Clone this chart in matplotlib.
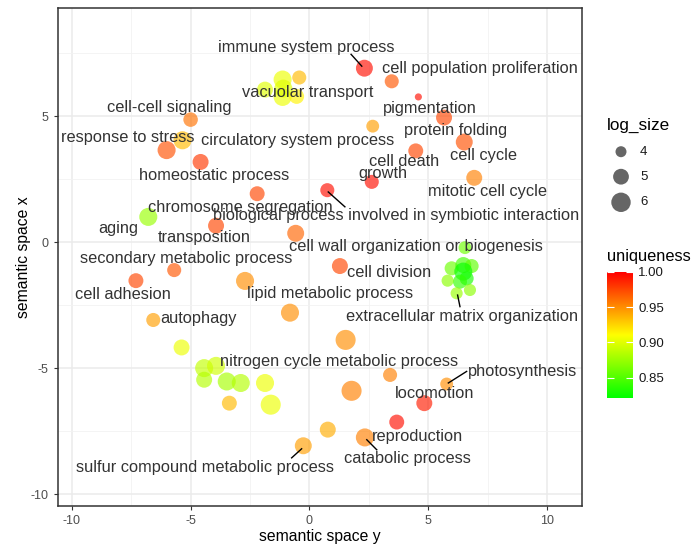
import numpy as np
import matplotlib.pyplot as plt
from matplotlib.colors import LinearSegmentedColormap, Normalize

plt.rcParams['font.family'] = ['Liberation Sans', 'DejaVu Sans']
plt.rcParams['axes.unicode_minus'] = False

# GO terms: semantic coordinates, log_size, uniqueness
plot_y = [2.31, 3.46, -1.13, -0.43, -1.87, -1.13, -0.54, -1.10, 4.58, 2.66,
          2.62, 0.75, -2.20, -0.58, 5.66, 6.51, 4.47, 6.93, -5.00, -5.34,
          -6.01, -4.58, -6.78, -3.93, -5.69, -7.30, -6.57, -5.38, -4.43, -3.93,
          -4.43, -3.48, -2.89, -1.87, -1.63, -3.37, -2.71, 1.28, -0.82, 1.52,
          3.39, 1.77, 0.77, -0.26, 2.33, 3.67, 5.77, 4.83,
          6.54, 5.98, 6.47, 6.82, 6.47, 6.61, 6.33, 5.81, 6.75, 6.19]
plot_x = [6.91, 6.39, 6.46, 6.54, 6.06, 5.77, 5.79, 6.10, 5.77, 4.61,
          2.40, 2.07, 1.93, 0.36, 4.95, 3.98, 3.63, 2.56, 4.87, 4.05,
          3.66, 3.19, 1.01, 0.66, -1.10, -1.52, -3.08, -4.17, -4.99, -4.90,
          -5.45, -5.52, -5.58, -5.58, -6.44, -6.38, -1.53, -0.94, -2.79, -3.87,
          -5.26, -5.89, -7.43, -8.07, -7.74, -7.13, -5.62, -6.38,
          -0.21, -1.03, -0.90, -0.94, -1.16, -1.43, -1.56, -1.52, -1.89, -2.02]
log_size = [5.3, 4.6, 5.6, 4.6, 5.05, 5.6, 4.8, 5.6, 3.45, 4.35,
            4.6, 4.6, 4.8, 5.3, 5.05, 5.3, 4.8, 5.05, 4.7, 5.6,
            5.6, 5.05, 5.6, 5.05, 4.6, 4.8, 4.6, 5.05, 5.6, 5.6,
            5.05, 5.6, 5.6, 5.6, 6.2, 4.8, 5.6, 5.05, 5.6, 6.2,
            4.6, 6.2, 5.05, 5.3, 5.6, 4.8, 4.35, 5.05,
            4.35, 4.6, 5.05, 4.6, 5.6, 4.6, 4.6, 4.2, 4.2, 4.2]
uniqueness = [0.995, 0.97, 0.905, 0.935, 0.90, 0.905, 0.915, 0.90, 0.995, 0.945,
              0.995, 0.995, 0.975, 0.965, 0.975, 0.972, 0.975, 0.955, 0.96, 0.935,
              0.972, 0.98, 0.875, 0.975, 0.97, 0.975, 0.945, 0.905, 0.89, 0.895,
              0.885, 0.88, 0.885, 0.905, 0.905, 0.935, 0.95, 0.975, 0.95, 0.95,
              0.955, 0.955, 0.94, 0.945, 0.955, 0.995, 0.95, 0.99,
              0.86, 0.86, 0.845, 0.855, 0.825, 0.83, 0.84, 0.87, 0.87, 0.875]

labels = ['immune system process', 'cell population proliferation', 'vacuolar transport',
          'pigmentation', 'cell-cell signaling', 'protein folding', 'response to stress',
          'circulatory system process', 'cell death', 'cell cycle', 'growth',
          'homeostatic process', 'mitotic cell cycle', 'chromosome segregation',
          'biological process involved in symbiotic interaction', 'aging', 'transposition',
          'cell wall organization or biogenesis', 'secondary metabolic process',
          'cell division', 'cell adhesion', 'lipid metabolic process', 'autophagy',
          'extracellular matrix organization', 'nitrogen cycle metabolic process',
          'photosynthesis', 'locomotion', 'reproduction', 'catabolic process',
          'sulfur compound metabolic process']
label_y = [-0.15, 7.19, -0.08, 5.06, -5.89, 6.16, -7.64, -0.50, 4.00, 7.31, 3.07,
           -4.02, 7.50, -2.89, 3.63, -8.04, -4.44, 4.49, -5.17, 3.33, -7.85, 0.86,
           -4.66, 6.42, 1.25, 8.96, 5.28, 4.56, 4.12, -4.38]
label_x = [7.73, 6.89, 5.96, 5.31, 5.37, 4.45, 4.18, 4.05, 3.19, 3.43, 2.73,
           2.67, 2.03, 1.39, 1.08, 0.53, 0.20, -0.17, -0.63, -1.20, -2.05, -2.02,
           -3.01, -2.95, -4.73, -5.12, -5.98, -7.70, -8.58, -8.95]

# repel segments: (y0, x0, y1, x1)
segments = [(1.75, 7.46, 2.20, 6.99),
            (0.79, 2.00, 1.49, 1.41),
            (6.23, -2.09, 6.33, -2.55),
            (5.84, -5.58, 6.61, -5.12),
            (2.41, -7.83, 2.83, -8.23),
            (-0.33, -8.19, -0.75, -8.55)]

legend_sizes = [4, 5, 6]
cbar_ticks = [0.85, 0.90, 0.95, 1.00]
u_min, u_max = 0.822, 1.0


def size_pt2(ls):
    # point area grows linearly with log_size
    d_px = np.sqrt(121 + 128 * (np.asarray(ls) - 4))
    return (d_px * 0.72) ** 2


cmap = LinearSegmentedColormap.from_list('uniq', ['#00ff00', '#ffff00', '#ff0000'])
norm = Normalize(u_min, u_max)

fig = plt.figure(figsize=(6.91, 5.46), dpi=100)
ax = fig.add_axes([57.7 / 691, 1 - 506 / 546, 524 / 691, 498.3 / 546])

ax.scatter(plot_y, plot_x, s=size_pt2(log_size), c=uniqueness, cmap=cmap, norm=norm,
           alpha=0.65, linewidths=0, zorder=3)

for t, lx, ly in zip(labels, label_y, label_x):
    ax.text(lx, ly, t, ha='center', va='center', fontsize=11.8, color='#333333', zorder=4)
for y0, x0, y1, x1 in segments:
    ax.plot([y0, y1], [x0, x1], color='black', lw=1.0, zorder=4)

ax.set_xlim(-10.59, 11.45)
ax.set_ylim(-10.46, 9.31)
ax.set_xticks([-10, -5, 0, 5, 10])
ax.set_yticks([-10, -5, 0, 5])
ax.set_xticks([-7.5, -2.5, 2.5, 7.5], minor=True)
ax.set_yticks([-7.5, -2.5, 2.5, 7.5], minor=True)
ax.grid(which='major', color='#ebebeb', lw=1.1, zorder=0)
ax.grid(which='minor', color='#f2f2f2', lw=0.6, zorder=0)
ax.set_axisbelow(True)
ax.tick_params(which='major', length=3, color='#333333', labelsize=9, labelcolor='#4d4d4d')
ax.tick_params(which='minor', length=0)
for sp in ax.spines.values():
    sp.set_color('#333333')
    sp.set_linewidth(1.1)
ax.set_xlabel('semantic space y', fontsize=11.3, labelpad=1.5)
ax.set_ylabel('semantic space x', fontsize=11.3, labelpad=0)

# size legend, drawn in pixel coordinates
lg = fig.add_axes([0, 0, 1, 1], facecolor='none')
lg.set_xlim(0, 691)
lg.set_ylim(546, 0)
lg.axis('off')
fig.text(607 / 691, 1 - 125 / 546, 'log_size', fontsize=12.3, va='center', ha='left')
leg_y = [151.7, 176.7, 202.3]
lg.scatter([621] * 3, leg_y, s=size_pt2(legend_sizes), color='black', alpha=0.6,
           linewidths=0)
for v, yy in zip(legend_sizes, leg_y):
    fig.text(640 / 691, 1 - yy / 546, str(v), fontsize=9.5, va='center', ha='left',
             color='#1a1a1a')

# uniqueness colour bar
fig.text(607 / 691, 1 - 256 / 546, 'uniqueness', fontsize=11.8, va='center', ha='left')
cax = fig.add_axes([607.3 / 691, 1 - 397.7 / 546, 25.4 / 691, 126 / 546])
grad = np.linspace(u_min, u_max, 256).reshape(-1, 1)
cax.imshow(grad, aspect='auto', cmap=cmap, norm=norm, origin='lower',
           extent=[0, 1, u_min, u_max])
cax.set_xlim(0, 1)
cax.set_ylim(u_min, u_max)
cax.set_xticks([])
cax.set_yticks(cbar_ticks)
cax.set_yticklabels(['%.2f' % v for v in cbar_ticks])
cax.yaxis.tick_right()
cax.tick_params(axis='y', left=True, right=True, direction='in', length=5,
                color='white', width=0.8, labelsize=9.5, labelcolor='#1a1a1a', pad=4)
for sp in cax.spines.values():
    sp.set_visible(False)

fig.savefig('out.png', dpi=100)
